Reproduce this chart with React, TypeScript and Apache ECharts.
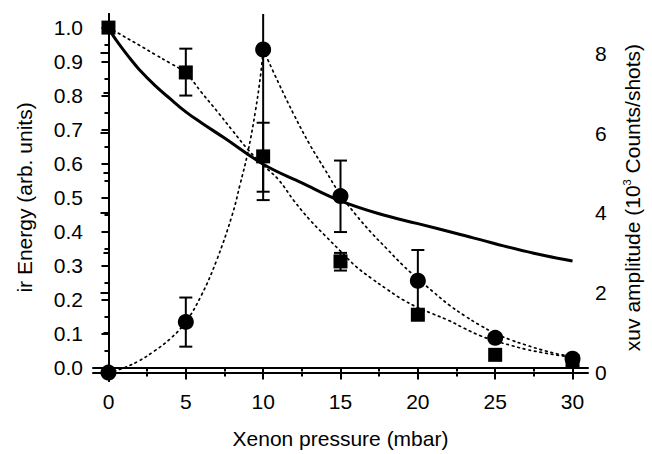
import React, { useEffect, useRef } from "react";
import * as echarts from "echarts";

// ---- data ----
const pressure = [0, 5, 10, 15, 20, 25, 30];
const irEnergy = [1.0, 0.868, 0.621, 0.312, 0.155, 0.037, 0.018];
const irErrLow = [1.0, 0.8, 0.517, 0.285, 0.145, 0.037, 0.018];
const irErrHigh = [1.0, 0.938, 0.72, 0.337, 0.165, 0.037, 0.018];

const xuvAmp = [0.0, 1.27, 8.09, 4.42, 2.3, 0.87, 0.35];
const xuvErrLow = [0.0, 0.65, 4.32, 3.52, 1.53, 0.87, 0.35];
const xuvErrHigh = [0.0, 1.88, 11.86, 5.31, 3.07, 0.87, 0.35];

// dotted fit through the ir-energy squares
const irFitX = [0, 1, 2, 3, 4, 5, 6, 7, 8, 9, 10, 11, 12, 13, 14, 15, 16, 17, 18, 19, 20, 21, 22, 23, 24, 25, 26, 27, 28, 29, 30];
const irFitY = [1.0, 0.974, 0.948, 0.921, 0.895, 0.866, 0.81, 0.755, 0.698, 0.642, 0.595, 0.552, 0.49, 0.435, 0.388, 0.342, 0.297, 0.262, 0.23, 0.2, 0.176, 0.157, 0.138, 0.115, 0.094, 0.078, 0.065, 0.053, 0.044, 0.036, 0.03];

// dotted fit through the xuv circles (rising and falling branch)
const xuvRiseX = [0, 1, 2, 3, 4, 5, 6, 7, 8, 8.5, 9, 9.5, 9.85, 10];
const xuvRiseY = [0.0, 0.12, 0.3, 0.55, 0.85, 1.27, 1.93, 2.82, 3.95, 4.7, 5.5, 6.55, 7.5, 8.09];
const xuvFallX = [10, 11, 12, 13, 14, 15, 16, 17, 18, 19, 20, 21, 22, 23, 24, 25, 26, 27, 28, 29, 30];
const xuvFallY = [8.09, 7.25, 6.45, 5.72, 5.08, 4.45, 3.95, 3.5, 3.1, 2.7, 2.35, 2.02, 1.7, 1.43, 1.19, 0.98, 0.82, 0.69, 0.57, 0.47, 0.4];

// solid curve (left axis)
const solidX = [0, 0.25, 0.5, 1, 1.5, 2, 3, 4, 5, 6, 7.5, 10, 12.5, 15, 17.5, 20, 22.5, 25, 27.5, 30];
const solidY = [1.0, 0.98, 0.963, 0.932, 0.903, 0.876, 0.83, 0.79, 0.752, 0.72, 0.675, 0.598, 0.543, 0.49, 0.452, 0.423, 0.394, 0.364, 0.336, 0.313];

// ticks
const xMajorTicks = [0, 5, 10, 15, 20, 25, 30];
const xMinorTicks = [2.5, 7.5, 12.5, 17.5, 22.5, 27.5];
const leftMajorTicks = [0, 0.1, 0.2, 0.3, 0.4, 0.5, 0.6, 0.7, 0.8, 0.9, 1.0];
const leftMinorTicks = [0.05, 0.15, 0.25, 0.35, 0.45, 0.55, 0.65, 0.75, 0.85, 0.95];
const rightMajorTicks = [0, 2, 4, 6, 8];
const rightMinorTicks = [1, 3, 5, 7];

const FONT = "Liberation Sans, Arial, Helvetica, sans-serif";
const FS = 21;

export default function App() {
  const ref = useRef<HTMLDivElement>(null);
  useEffect(() => {
    if (!ref.current) return;
    const chart = echarts.init(ref.current, undefined, { renderer: "svg" });
    const black = "#000";
    const lineStyle = { color: black, width: 2 };

    const errRender = (params: any, api: any) => {
      const x = api.value(0);
      const lo = api.value(1);
      const hi = api.value(2);
      if (lo === hi) return null;
      const pLo = api.coord([x, lo]);
      const pHi = api.coord([x, hi]);
      const w = 6.5;
      const st = { stroke: black, lineWidth: 2 };
      return {
        type: "group",
        children: [
          { type: "line", shape: { x1: pLo[0], y1: pLo[1], x2: pHi[0], y2: pHi[1] }, style: st },
          { type: "line", shape: { x1: pLo[0] - w, y1: pLo[1], x2: pLo[0] + w, y2: pLo[1] }, style: st },
          { type: "line", shape: { x1: pHi[0] - w, y1: pHi[1], x2: pHi[0] + w, y2: pHi[1] }, style: st },
        ],
      };
    };

    const baseX = { type: "value", min: -1, max: 31, splitLine: { show: false } };
    const baseL = { type: "value", min: -0.04, max: 1.04, splitLine: { show: false } };
    const baseR = { type: "value", min: -0.21, max: 8.98, splitLine: { show: false } };
    const dotted = { color: black, width: 1.7, type: [1.7, 4], cap: "round" };

    chart.setOption({
      animation: false,
      backgroundColor: "#fff",
      grid: { left: 93, right: 61, top: 14, bottom: 72, containLabel: false },
      xAxis: [
        {
          ...baseX,
          position: "bottom",
          axisLine: { show: true, lineStyle },
          axisTick: { show: true, inside: false, length: 7, lineStyle, customValues: xMajorTicks },
          axisLabel: { show: true, customValues: xMajorTicks, fontSize: FS, color: black, fontFamily: FONT, margin: 10 },
          name: "Xenon pressure (mbar)",
          nameLocation: "middle",
          nameGap: 47,
          nameTextStyle: { fontSize: FS, color: black, fontFamily: FONT },
        },
        {
          ...baseX,
          position: "bottom",
          axisLine: { show: false },
          axisTick: { show: true, inside: false, length: 4, lineStyle, customValues: xMinorTicks },
          axisLabel: { show: false },
        },
        {
          ...baseX,
          position: "top",
          axisLine: { show: true, lineStyle },
          axisTick: { show: true, inside: true, length: 7, lineStyle, customValues: xMajorTicks },
          axisLabel: { show: false },
        },
        {
          ...baseX,
          position: "top",
          axisLine: { show: false },
          axisTick: { show: true, inside: true, length: 4, lineStyle, customValues: xMinorTicks },
          axisLabel: { show: false },
        },
      ],
      yAxis: [
        {
          ...baseL,
          position: "left",
          axisLine: { show: true, lineStyle },
          axisTick: { show: true, inside: false, length: 7, lineStyle, customValues: leftMajorTicks },
          axisLabel: {
            show: true,
            customValues: leftMajorTicks,
            formatter: (v: number) => v.toFixed(1),
            fontSize: FS,
            color: black,
            fontFamily: FONT,
            margin: 10,
          },
          name: "ir Energy (arb. units)",
          nameLocation: "middle",
          nameRotate: 90,
          nameGap: 58,
          nameTextStyle: { fontSize: FS, color: black, fontFamily: FONT },
        },
        {
          ...baseL,
          position: "left",
          axisLine: { show: false },
          axisTick: { show: true, inside: false, length: 4, lineStyle, customValues: leftMinorTicks },
          axisLabel: { show: false },
        },
        {
          ...baseR,
          position: "right",
          axisLine: { show: true, lineStyle },
          axisTick: { show: true, inside: true, length: 8, lineStyle, customValues: rightMajorTicks },
          axisLabel: { show: true, customValues: rightMajorTicks, fontSize: FS, color: black, fontFamily: FONT, margin: 7 },
          name: "xuv amplitude (10{sup|3} Counts/shots)",
          nameLocation: "middle",
          nameRotate: 90,
          nameGap: 33,
          nameTextStyle: {
            fontSize: FS,
            color: black,
            fontFamily: FONT,
            lineHeight: 23,
            rich: { sup: { fontSize: 11, color: black, fontFamily: FONT, lineHeight: 12, verticalAlign: "top" } },
          },
        },
        {
          ...baseR,
          position: "right",
          axisLine: { show: false },
          axisTick: { show: true, inside: true, length: 5, lineStyle, customValues: rightMinorTicks },
          axisLabel: { show: false },
        },
      ],
      series: [
        {
          type: "line",
          xAxisIndex: 0,
          yAxisIndex: 0,
          data: irFitX.map((x, i) => [x, irFitY[i]]),
          smooth: 0.4,
          showSymbol: false,
          lineStyle: dotted,
          z: 2,
        },
        {
          type: "line",
          xAxisIndex: 0,
          yAxisIndex: 2,
          data: xuvRiseX.map((x, i) => [x, xuvRiseY[i]]),
          smooth: 0.4,
          showSymbol: false,
          lineStyle: dotted,
          z: 2,
        },
        {
          type: "line",
          xAxisIndex: 0,
          yAxisIndex: 2,
          data: xuvFallX.map((x, i) => [x, xuvFallY[i]]),
          smooth: 0.4,
          showSymbol: false,
          lineStyle: dotted,
          z: 2,
        },
        {
          type: "line",
          xAxisIndex: 0,
          yAxisIndex: 0,
          data: solidX.map((x, i) => [x, solidY[i]]),
          smooth: 0.4,
          showSymbol: false,
          lineStyle: { color: black, width: 3 },
          z: 3,
        },
        {
          type: "custom",
          xAxisIndex: 0,
          yAxisIndex: 0,
          clip: true,
          renderItem: errRender,
          data: pressure.map((x, i) => [x, irErrLow[i], irErrHigh[i]]),
          z: 4,
        },
        {
          type: "custom",
          xAxisIndex: 0,
          yAxisIndex: 2,
          clip: true,
          renderItem: errRender,
          data: pressure.map((x, i) => [x, xuvErrLow[i], xuvErrHigh[i]]),
          z: 4,
        },
        {
          type: "scatter",
          xAxisIndex: 0,
          yAxisIndex: 0,
          symbol: "rect",
          symbolSize: 14,
          itemStyle: { color: black, opacity: 1 },
          data: pressure.map((x, i) => [x, irEnergy[i]]),
          z: 5,
        },
        {
          type: "scatter",
          xAxisIndex: 0,
          yAxisIndex: 2,
          symbol: "circle",
          symbolSize: 16,
          itemStyle: { color: black, opacity: 1 },
          data: pressure.map((x, i) => [x, xuvAmp[i]]),
          z: 5,
        },
      ],
    });
    return () => chart.dispose();
  }, []);
  return (
    <div
      ref={ref}
      style={{ position: "fixed", left: 0, top: 0, width: 652, height: 454, background: "#fff" }}
    />
  );
}
